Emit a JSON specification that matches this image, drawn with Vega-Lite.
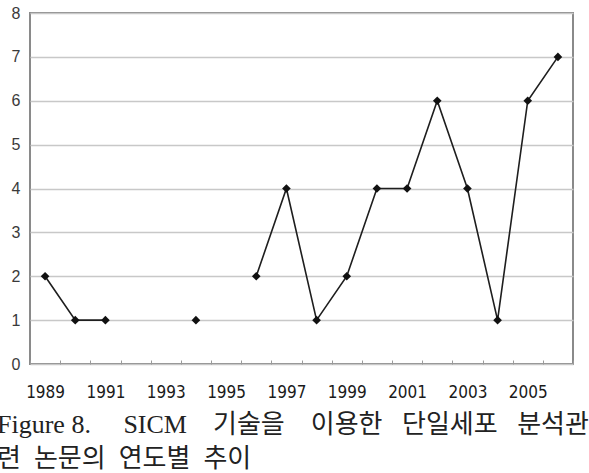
{
  "$schema": "https://vega.github.io/schema/vega-lite/v6.json",
  "width": 543,
  "height": 351,
  "autosize": {"type": "none"},
  "padding": {"left": 30, "top": 13, "right": 16, "bottom": 109},
  "background": "white",
  "config": {"view": {"stroke": "#8a8a8a", "strokeWidth": 2}},
  "title": {
    "text": ["Figure 8.\u00a0\u00a0\u00a0\u00a0\u00a0SICM\u00a0\u00a0\u00a0\u00a0기술을\u00a0\u00a0\u00a0\u00a0이용한\u00a0\u00a0\u00a0단일세포\u00a0\u00a0\u00a0분석관", "련\u00a0\u00a0논문의\u00a0\u00a0연도별\u00a0\u00a0추이"],
    "orient": "bottom",
    "anchor": "start",
    "frame": "group",
    "dx": -33,
    "offset": 12,
    "font": "Liberation Serif, Noto Sans CJK KR",
    "fontSize": 26,
    "fontWeight": "normal",
    "color": "#222222",
    "lineHeight": 34
  },
  "data": {
    "values": [
      {"year": 1989, "count": 2},
      {"year": 1990, "count": 1},
      {"year": 1991, "count": 1},
      {"year": 1992, "count": null},
      {"year": 1993, "count": null},
      {"year": 1994, "count": 1},
      {"year": 1995, "count": null},
      {"year": 1996, "count": 2},
      {"year": 1997, "count": 4},
      {"year": 1998, "count": 1},
      {"year": 1999, "count": 2},
      {"year": 2000, "count": 4},
      {"year": 2001, "count": 4},
      {"year": 2002, "count": 6},
      {"year": 2003, "count": 4},
      {"year": 2004, "count": 1},
      {"year": 2005, "count": 6},
      {"year": 2006, "count": 7}
    ]
  },
  "encoding": {
    "x": {
      "field": "year",
      "type": "ordinal",
      "bandPosition": 0.5,
      "scale": {
        "type": "band",
        "paddingInner": 0,
        "paddingOuter": 0,
        "domain": [1989, 1990, 1991, 1992, 1993, 1994, 1995, 1996, 1997, 1998, 1999, 2000, 2001, 2002, 2003, 2004, 2005, 2006]
      },
      "axis": {
        "title": null,
        "domain": false,
        "grid": false,
        "tickBand": "extent",
        "tickSize": -4,
        "tickColor": "#9a9a9a",
        "tickWidth": 1,
        "labelAngle": 0,
        "labelExpr": "datum.value % 2 == 1 ? datum.label : ''",
        "labelFont": "Liberation Sans Narrow, Arial Narrow, DejaVu Sans Condensed, sans-serif",
        "labelFontSize": 17,
        "labelColor": "#1a1a1a",
        "labelPadding": 24
      }
    },
    "y": {
      "field": "count",
      "type": "quantitative",
      "scale": {"domain": [0, 8], "nice": false},
      "axis": {
        "title": null,
        "values": [0, 1, 2, 3, 4, 5, 6, 7, 8],
        "ticks": false,
        "domain": false,
        "grid": true,
        "gridColor": "#c8c8c8",
        "gridWidth": 1.5,
        "labelFont": "Liberation Sans, Arial, sans-serif",
        "labelFontSize": 16,
        "labelColor": "#3a3a3a",
        "labelPadding": 10
      }
    }
  },
  "layer": [
    {
      "mark": {"type": "line", "color": "#1e1e1e", "strokeWidth": 1.6, "invalid": "break-paths-show-domains"}
    },
    {
      "mark": {"type": "point", "shape": "diamond", "filled": true, "color": "#111111", "opacity": 1, "size": 75}
    }
  ]
}
